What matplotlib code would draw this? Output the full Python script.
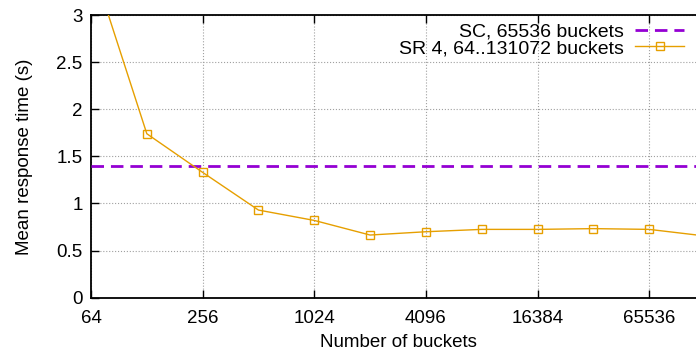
import matplotlib
matplotlib.use("Agg")
import matplotlib.pyplot as plt
from matplotlib.ticker import FixedLocator, NullLocator

# --- data ---
buckets = [64, 128, 256, 512, 1024, 2048, 4096, 8192, 16384, 32768, 65536, 131072]
sr4_time = [3.57, 1.74, 1.33, 0.93, 0.82, 0.665, 0.70, 0.725, 0.725, 0.733, 0.725, 0.655]
sc_time = 1.40

x_ticks = [64, 256, 1024, 4096, 16384, 65536]
x_tick_labels = ["64", "256", "1024", "4096", "16384", "65536"]
y_ticks = [0, 0.5, 1, 1.5, 2, 2.5, 3]
y_tick_labels = ["0", "0.5", "1", "1.5", "2", "2.5", "3"]

plt.rcParams["font.family"] = ["Liberation Sans", "DejaVu Sans"]
plt.rcParams["font.size"] = 14

fig = plt.figure(figsize=(6.96, 3.59), dpi=100)
# right edge of the plot runs past the image, as in the reference
ax = fig.add_axes([91 / 696, 1 - 297.7 / 359, (705 - 91) / 696, (297.7 - 15) / 359])

ax.axhline(sc_time, color="#9400D3", lw=2, dashes=(4.5, 2.5),
           label="SC, 65536 buckets", zorder=3)
ax.plot(buckets, sr4_time, color="#E69F00", lw=1, marker="s", ms=6,
        mfc="none", mec="#E69F00", mew=1,
        label="SR 4, 64..131072 buckets", zorder=4)

ax.set_xscale("log", base=2)
ax.set_xlim(64, 131072)
ax.set_ylim(0, 3)
ax.xaxis.set_major_locator(FixedLocator(x_ticks))
ax.xaxis.set_minor_locator(NullLocator())
ax.set_xticklabels(x_tick_labels)
ax.set_yticks(y_ticks)
ax.set_yticklabels(y_tick_labels)

ax.tick_params(direction="in", length=6, width=1, top=True, right=True,
               labelsize=13.5)
ax.tick_params(axis="x", pad=9)
ax.tick_params(axis="y", pad=6)
ax.grid(True, color="#a0a0a0", ls=":", lw=0.8)
for s in ax.spines.values():
    s.set_linewidth(1.3)

ax.set_xlabel("Number of buckets", fontsize=13.5, labelpad=5)
ax.set_ylabel("Mean response time (s)", fontsize=13.5, labelpad=17)

leg = fig.legend(loc="upper right", bbox_to_anchor=(684 / 696, 1 - 23 / 359),
                 markerfirst=False, frameon=False, borderpad=0,
                 borderaxespad=0, handlelength=2.5, handletextpad=0.6,
                 labelspacing=-0.05, fontsize=14)

fig.savefig("out.png", dpi=100)
